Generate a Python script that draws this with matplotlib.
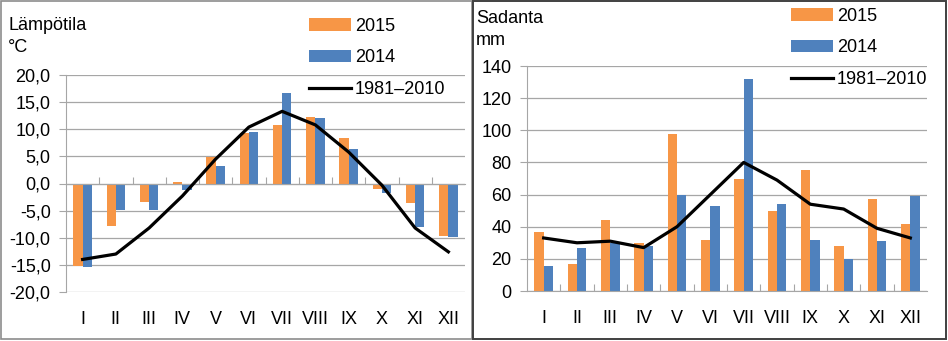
import matplotlib.pyplot as plt
import numpy as np
from matplotlib.patches import Rectangle

plt.rcParams['font.family'] = ['Liberation Sans', 'DejaVu Sans']

months = ['I', 'II', 'III', 'IV', 'V', 'VI', 'VII', 'VIII', 'IX', 'X', 'XI', 'XII']

# Lämpötila (°C)
temp_2015 = [-15.2, -7.9, -3.4, 0.2, 4.9, 9.3, 10.7, 12.3, 8.4, -1.0, -3.6, -9.7]
temp_2014 = [-15.4, -4.8, -4.9, -1.2, 3.3, 9.5, 16.7, 12.0, 6.4, -1.7, -8.0, -9.8]
temp_norm = [-14.0, -13.0, -8.2, -2.3, 4.5, 10.4, 13.3, 10.8, 5.8, -0.3, -8.2, -12.6]

# Sadanta (mm)
rain_2015 = [37, 17, 44, 30, 98, 32, 70, 50, 75, 28, 57, 42]
rain_2014 = [15.5, 27, 30, 28, 60, 53, 132, 54, 32, 20, 31, 59]
rain_norm = [33, 30, 31, 27, 40, 60, 80, 69, 54, 51, 39, 33]

c15 = '#F79646'
c14 = '#4F81BD'
grid_c = '#A6A6A6'
fs = 13

fig = plt.figure(figsize=(9.48, 3.41), dpi=100)

# panel borders
fig.patches.append(Rectangle((0.001, 0.006), 0.497, 0.992, transform=fig.transFigure,
                             fill=False, edgecolor='#8C8C8C', lw=1.2))
fig.patches.append(Rectangle((0.499, 0.006), 0.499, 0.992, transform=fig.transFigure,
                             fill=False, edgecolor='#404040', lw=1.4))


def panel(rect, v15, v14, vn, ylim, step, fmt, title, unit, tpos, upos, legpos):
    ax = fig.add_axes(rect)
    x = np.arange(len(months))
    w = 0.28
    b1 = ax.bar(x - w / 2, v15, w, color=c15, zorder=2)
    b2 = ax.bar(x + w / 2, v14, w, color=c14, zorder=2)
    ln, = ax.plot(x, vn, color='black', lw=2.3, zorder=3)
    ax.set_xlim(-0.5, 11.5)
    ax.set_ylim(*ylim)
    ticks = np.arange(ylim[0], ylim[1] + step / 2, step)
    ax.set_yticks(ticks)
    ax.set_yticklabels([fmt(t) for t in ticks], fontsize=fs)
    ax.yaxis.grid(True, color=grid_c, lw=0.9, zorder=0)
    ax.set_axisbelow(True)
    for s in ['top', 'right']:
        ax.spines[s].set_visible(False)
    ax.spines['left'].set_color(grid_c)
    ax.spines['bottom'].set_color(grid_c)
    ax.spines['bottom'].set_position(('data', 0))
    ax.tick_params(axis='y', length=5, color=grid_c, pad=6)
    # category boundary ticks on the zero line
    ax.set_xticks(np.arange(0.5, 11, 1))
    ax.set_xticklabels([])
    ax.tick_params(axis='x', length=5, direction='in', color=grid_c)
    sec = ax.secondary_xaxis(0)
    sec.spines['bottom'].set_visible(False)
    sec.set_xticks(x)
    sec.set_xticklabels(months, fontsize=fs)
    sec.tick_params(length=0, pad=14)
    fig.text(tpos[0], tpos[1], title, fontsize=fs, ha='left', va='baseline')
    fig.text(upos[0], upos[1], unit, fontsize=fs, ha='left', va='baseline')
    ax.legend([b1, b2, ln], ['2015', '2014', '1981–2010'],
              loc='upper left', bbox_to_anchor=legpos, bbox_transform=fig.transFigure,
              frameon=False, fontsize=fs, handlelength=2.3, handleheight=0.7,
              handletextpad=0.25, labelspacing=0.8, borderpad=0, borderaxespad=0)
    return ax


panel([66 / 948, 1 - 292 / 341, 399 / 948, 217 / 341],
      temp_2015, temp_2014, temp_norm, (-20, 20), 5,
      lambda t: f'{t:.1f}'.replace('.', ','),
      'Lämpötila', '°C', (8 / 948, 1 - 30 / 341), (8 / 948, 1 - 52 / 341),
      (309 / 948, 1 - 18 / 341))

panel([527 / 948, 1 - 291 / 341, 400 / 948, 225 / 341],
      rain_2015, rain_2014, rain_norm, (0, 140), 20,
      lambda t: f'{int(t)}',
      'Sadanta', 'mm', (476 / 948, 1 - 23 / 341), (476 / 948, 1 - 45 / 341),
      (791 / 948, 1 - 8 / 341))

fig.savefig('out.png', dpi=100)
